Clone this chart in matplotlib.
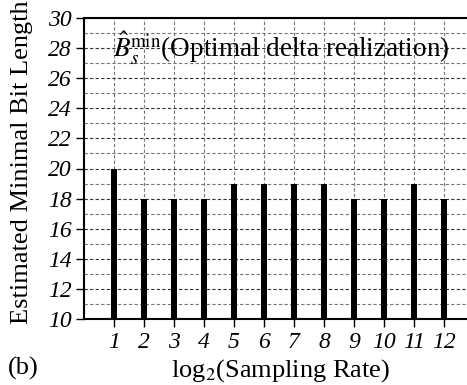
import matplotlib
matplotlib.use("Agg")
import matplotlib.pyplot as plt
from matplotlib.ticker import MultipleLocator

rates = [1, 2, 3, 4, 5, 6, 7, 8, 9, 10, 11, 12]
bits = [20, 18, 18, 18, 19, 19, 19, 19, 18, 18, 19, 18]
yticks = [10, 12, 14, 16, 18, 20, 22, 24, 26, 28, 30]

plt.rcParams['font.family'] = ['Liberation Serif', 'DejaVu Serif']
plt.rcParams['mathtext.fontset'] = 'stix'

fig = plt.figure(figsize=(4.67, 3.85), dpi=100)
W, H = 467, 385
left, right, top, bottom = 84, 474, 18, 319
ax = fig.add_axes([left / W, 1 - bottom / H, (right - left) / W, (bottom - top) / H])

ax.bar(rates, bits, width=0.23, color='black', zorder=3)
ax.set_xlim(0, 13)
ax.set_ylim(10, 30)
ax.set_xticks(rates)
ax.set_xticklabels([str(r) for r in rates], fontstyle='italic', fontsize=17)
ax.set_yticks(yticks)
ax.set_yticklabels([str(v) for v in yticks], fontstyle='italic', fontsize=17)
ax.yaxis.set_minor_locator(MultipleLocator(1))
ax.tick_params(axis='y', which='minor', length=0)
ax.tick_params(axis='both', which='major', direction='out', length=6, width=1, pad=3)
ax.grid(True, axis='y', which='major', linestyle='--', color='#333333', linewidth=0.8, dashes=(3, 2))
ax.grid(True, axis='y', which='minor', linestyle='--', color='#777777', linewidth=0.8, dashes=(3, 2))
ax.grid(True, axis='x', which='major', linestyle='--', color='#777777', linewidth=0.8, dashes=(3, 2))
ax.set_axisbelow(True)
for s in ['top', 'left', 'bottom']:
    ax.spines[s].set_linewidth(1.5)
ax.spines['right'].set_visible(False)

ax.set_ylabel('Estimated Minimal Bit Length', fontsize=19)
ax.yaxis.set_label_coords(-(84 - 22) / 390, 0.52)
ax.set_xlabel('log$_2$(Sampling Rate)', fontsize=19, labelpad=0)
ax.xaxis.set_label_coords((280 - 84) / 390, -(371 - 319) / 301)
ax.xaxis.label.set_va('center')
ax.yaxis.label.set_va('center')
ax.text(0.97, 28.0, r'$\hat{B}_s^{\min}$(Optimal delta realization)', fontsize=19.5,
        va='center', ha='left')
fig.text(8 / W, 1 - 368 / H, '(b)', fontsize=19, va='center', ha='left')

fig.savefig('out.png', dpi=100)
